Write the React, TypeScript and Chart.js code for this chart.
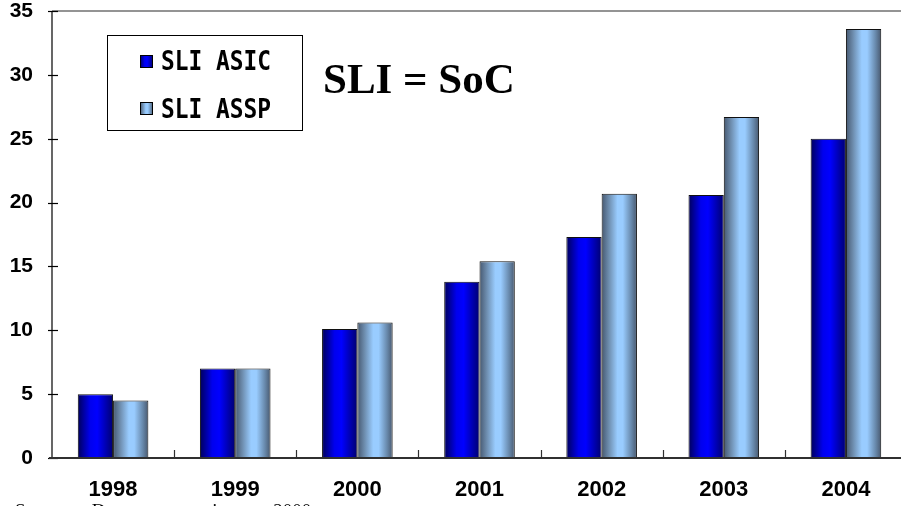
import React, { useEffect, useRef } from "react";
import { Chart, registerables } from "chart.js";

Chart.register(...registerables);

// ---- data ----
const YEARS = ["1998", "1999", "2000", "2001", "2002", "2003", "2004"];
const SLI_ASIC = [5.0, 7.0, 10.1, 13.8, 17.3, 20.6, 25.0];
const SLI_ASSP = [4.5, 7.0, 10.6, 15.4, 20.7, 26.7, 33.6];
const SERIES_LABELS = ["SLI ASIC", "SLI ASSP"];
const Y_MIN = 0;
const Y_MAX = 35;
const Y_STEP = 5;
const TITLE_TEXT = "SLI = SoC";
const SOURCE_TEXT = "Source: Dataquest, estimate 2000";

// ---- style ----
const CAT_PCT = 0.578;
const ASIC_STOPS: [number, string][] = [
  [0, "#00005a"],
  [0.35, "#0000ee"],
  [0.55, "#0000ff"],
  [1, "#000070"],
];
const ASSP_STOPS: [number, string][] = [
  [0, "#465870"],
  [0.2, "#6d8cad"],
  [0.45, "#99ccff"],
  [0.6, "#99ccff"],
  [0.85, "#6686a8"],
  [1, "#48586e"],
];

function makeGrad(ctx: CanvasRenderingContext2D, x0: number, x1: number, stops: [number, string][]) {
  const g = ctx.createLinearGradient(x0, 0, x1, 0);
  stops.forEach(([o, c]) => g.addColorStop(o, c));
  return g;
}

function barFill(stops: [number, string][], fallback: string) {
  return (c: any) => {
    const chart = c.chart;
    const xs = chart.scales?.x;
    const area = chart.chartArea;
    if (!xs || !area || c.dataIndex === undefined) return fallback;
    const n = chart.data.labels.length;
    const cat = (area.right - area.left) / n;
    const w = (cat * CAT_PCT) / 2;
    const center = xs.getPixelForValue(c.dataIndex);
    const left = center - w + c.datasetIndex * w;
    return makeGrad(chart.ctx, left, left + w, stops);
  };
}

const decoPlugin = {
  id: "deco",
  afterDatasetsDraw(chart: any) {
    const { ctx, chartArea: a, scales } = chart;
    const x = scales.x;
    const y = scales.y;
    const line = (x0: number, y0: number, x1: number, y1: number) => {
      ctx.beginPath();
      ctx.moveTo(x0, y0);
      ctx.lineTo(x1, y1);
      ctx.stroke();
    };
    ctx.save();
    // top frame line
    ctx.strokeStyle = "#707070";
    ctx.lineWidth = 1.5;
    line(a.left, a.top, a.right, a.top);
    // y axis
    ctx.strokeStyle = "#000";
    ctx.lineWidth = 1.2;
    line(a.left, a.top, a.left, a.bottom);
    y.ticks.forEach((t: any) => {
      const py = Math.round(y.getPixelForValue(t.value)) + 0.5;
      line(a.left - 4, py, a.left + 6, py);
    });
    // x axis
    ctx.strokeStyle = "#303030";
    ctx.lineWidth = 2;
    line(a.left - 3, a.bottom, a.right, a.bottom);
    const n = chart.data.labels.length;
    ctx.lineWidth = 1.2;
    for (let i = 1; i < n; i++) {
      const px = Math.round((x.getPixelForValue(i - 1) + x.getPixelForValue(i)) / 2) + 0.5;
      line(px, a.bottom - 8, px, a.bottom);
    }
    ctx.restore();
  },
  afterDraw(chart: any) {
    const { ctx } = chart;
    ctx.save();
    // legend box
    ctx.fillStyle = "#fff";
    ctx.fillRect(107, 35, 195, 95);
    ctx.strokeStyle = "#000";
    ctx.lineWidth = 1;
    ctx.strokeRect(107.5, 35.5, 195, 95);
    const stopsList = [ASIC_STOPS, ASSP_STOPS];
    const rows = [
      { sy: 55, base: 70 },
      { sy: 102, base: 118 },
    ];
    chart.data.datasets.forEach((ds: any, i: number) => {
      const r = rows[i];
      ctx.fillStyle = makeGrad(ctx, 140, 153, stopsList[i]);
      ctx.fillRect(140, r.sy, 13, 13);
      ctx.strokeStyle = "#000";
      ctx.lineWidth = 1;
      ctx.strokeRect(140.5, r.sy + 0.5, 12, 12);
      ctx.font = "bold 27px 'DejaVu Sans Mono'";
      ctx.fillStyle = "#000";
      ctx.textBaseline = "alphabetic";
      ctx.textAlign = "left";
      const w = ctx.measureText(ds.label).width;
      ctx.save();
      ctx.translate(161, r.base);
      ctx.scale(110 / w, 1);
      ctx.fillText(ds.label, 0, 0);
      ctx.restore();
    });
    // title text
    ctx.font = "bold 43px 'Liberation Serif'";
    ctx.fillStyle = "#000";
    ctx.textAlign = "left";
    ctx.textBaseline = "alphabetic";
    ctx.fillText(TITLE_TEXT, 323, 93);
    ctx.restore();
  },
};

export default function App() {
  const ref = useRef<HTMLCanvasElement>(null);
  useEffect(() => {
    if (!ref.current) return;
    const chart = new Chart(ref.current, {
      type: "bar",
      data: {
        labels: YEARS,
        datasets: [
          {
            label: SERIES_LABELS[0],
            data: SLI_ASIC,
            backgroundColor: barFill(ASIC_STOPS, "#0000ff"),
            borderColor: "#101010",
            borderWidth: 1,
            categoryPercentage: CAT_PCT,
            barPercentage: 1,
          },
          {
            label: SERIES_LABELS[1],
            data: SLI_ASSP,
            backgroundColor: barFill(ASSP_STOPS, "#99ccff"),
            borderColor: "#101010",
            borderWidth: 1,
            categoryPercentage: CAT_PCT,
            barPercentage: 1,
          },
        ],
      },
      options: {
        animation: false,
        responsive: true,
        maintainAspectRatio: false,
        layout: { padding: { top: 11, left: 0, right: 0, bottom: 0 } },
        plugins: {
          legend: { display: false },
          tooltip: { enabled: false },
          title: { display: false },
        },
        scales: {
          x: {
            type: "category",
            grid: { display: false, drawTicks: false },
            border: { display: false },
            ticks: {
              color: "#000",
              padding: 19,
              font: { family: "'Liberation Sans', Arial", size: 22, weight: "bold" },
              maxRotation: 0,
              autoSkip: false,
            },
            afterFit: (s: any) => {
              s.height = 48;
              s.paddingLeft = 0;
              s.paddingRight = 0;
            },
          },
          y: {
            min: Y_MIN,
            max: Y_MAX,
            grid: { display: false, drawTicks: false },
            border: { display: false },
            ticks: {
              stepSize: Y_STEP,
              color: "#000",
              padding: 19,
              font: { family: "'Liberation Sans', Arial", size: 21, weight: "bold" },
            },
            afterFit: (s: any) => {
              s.width = 52;
              s.paddingTop = 0;
              s.paddingBottom = 0;
            },
          },
        },
      },
      plugins: [decoPlugin],
    });
    return () => chart.destroy();
  }, []);

  return (
    <div
      style={{
        position: "fixed",
        left: 0,
        top: 0,
        width: 901,
        height: 506,
        overflow: "hidden",
        background: "#fff",
      }}
    >
      <div style={{ position: "absolute", left: 0, top: 0, width: 907, height: 506 }}>
        <canvas ref={ref} />
      </div>
      <div
        style={{
          position: "absolute",
          left: 15,
          top: 500,
          font: "19px 'Liberation Serif'",
          lineHeight: "22px",
          wordSpacing: 14,
          whiteSpace: "nowrap",
          color: "#000",
        }}
      >
        {SOURCE_TEXT}
      </div>
    </div>
  );
}
